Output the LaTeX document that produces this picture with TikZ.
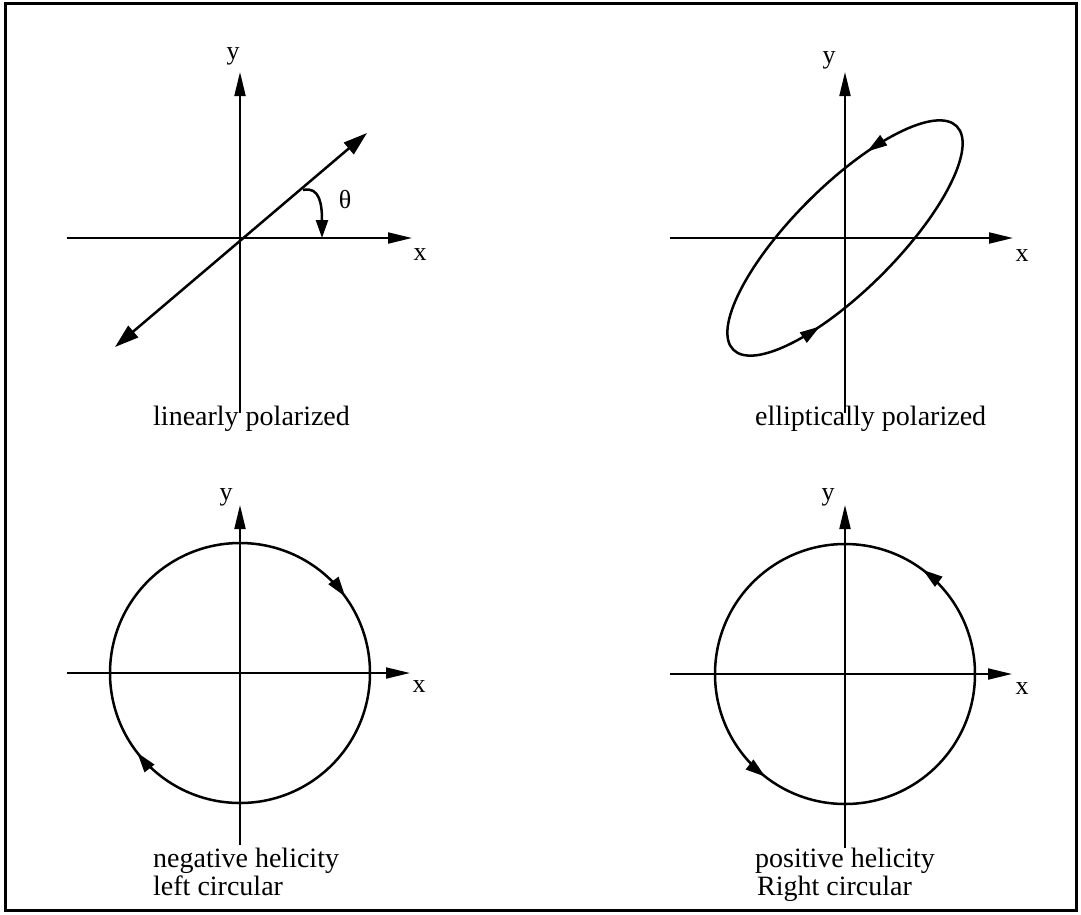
\documentclass[tikz,border=0pt]{standalone}
\usepackage{fontspec}
\setmainfont{Liberation Serif}
\usetikzlibrary{arrows.meta,decorations.markings}
\begin{document}
\begin{tikzpicture}[x=1pt,y=1pt,
  axis/.style={line width=2pt,-{Triangle[length=24pt,width=11pt]}},
  curve/.style={line width=2.5pt},
  lbl/.style={font=\fontsize{26}{30}\selectfont,inner sep=0pt},
  captxt/.style={font=\fontsize{28}{28}\selectfont,inner sep=0pt,anchor=base west}]
\useasboundingbox (0,0) rectangle (1081,-914);
\fill[white] (0,0) rectangle (1081,-914);
\draw[line width=3pt] (5,-3) rectangle (1076,-910);

% ---------- panel 1: linear ----------
\coordinate (o1) at (240,-238);
\coordinate (x1a) at (67,-238);  \coordinate (x1b) at (412,-238);
\coordinate (y1a) at (240,-413); \coordinate (y1b) at (240,-72);
\draw[axis] (x1a) -- (x1b);
\draw[axis] (y1a) -- (y1b);
\coordinate (l1a) at (115,-347); \coordinate (l1b) at (367,-133);
\draw[line width=2.5pt,{Triangle[length=24pt,width=15pt]}-{Triangle[length=24pt,width=15pt]}] (l1a) -- (l1b);
\coordinate (t1a) at (303,-190); \coordinate (t1b) at (322,-238);
\draw[line width=2.5pt,-{Triangle[length=18pt,width=12pt]}] (t1a) .. controls (320,-186) and (322,-205) .. (t1b);
\node[lbl] (th1) at (345,-200) {θ};
\node[lbl] (ly1) at (233,-56) {y};
\node[lbl] (lx1) at (420,-255) {x};
\node[captxt] (c1) at (153,-425) {linearly polarized};

% ---------- panel 2: elliptical ----------
\coordinate (o2) at (845,-238);
\coordinate (x2a) at (670,-238);  \coordinate (x2b) at (1013,-238);
\coordinate (y2a) at (845,-413);  \coordinate (y2b) at (845,-72);
\draw[axis] (x2a) -- (x2b);
\draw[axis] (y2a) -- (y2b);
\draw[curve,rotate around={45:(o2)},postaction=decorate,
  decoration={markings,
    mark=at position 0.14 with {\arrow{Triangle[length=20pt,width=12pt]}},
    mark=at position 0.635 with {\arrow{Triangle[length=20pt,width=12pt]}}}]
  (o2) ellipse [x radius=158pt,y radius=52pt];
\node[lbl] (ly2) at (829,-60) {y};
\node[lbl] (lx2) at (1022,-256) {x};
\node[captxt] (c2) at (755,-425) {elliptically polarized};

% ---------- panel 3: negative helicity ----------
\coordinate (o3) at (240,-673);
\coordinate (x3a) at (67,-673);  \coordinate (x3b) at (410,-673);
\coordinate (y3a) at (240,-845); \coordinate (y3b) at (240,-505);
\draw[axis] (x3a) -- (x3b);
\draw[axis] (y3a) -- (y3b);
\draw[curve,postaction=decorate,
  decoration={markings,
    mark=at position 0.10 with {\arrowreversed{Triangle[length=20pt,width=12pt]}},
    mark=at position 0.605 with {\arrowreversed{Triangle[length=20pt,width=12pt]}}}]
  (o3) circle [radius=130pt];
\node[lbl] (ly3) at (226,-497) {y};
\node[lbl] (lx3) at (419,-687) {x};
\node[captxt] (c3a) at (153,-867) {negative helicity};
\node[captxt] (c3b) at (153,-895) {left circular};

% ---------- panel 4: positive helicity ----------
\coordinate (o4) at (845,-674);
\coordinate (x4a) at (670,-674);  \coordinate (x4b) at (1012,-674);
\coordinate (y4a) at (845,-848);  \coordinate (y4b) at (845,-505);
\draw[axis] (x4a) -- (x4b);
\draw[axis] (y4a) -- (y4b);
\draw[curve,postaction=decorate,
  decoration={markings,
    mark=at position 0.148 with {\arrow{Triangle[length=20pt,width=12pt]}},
    mark=at position 0.645 with {\arrow{Triangle[length=20pt,width=12pt]}}}]
  (o4) circle [radius=130pt];
\node[lbl] (ly4) at (828,-497) {y};
\node[lbl] (lx4) at (1022,-689) {x};
\node[captxt] (c4a) at (755,-867) {positive helicity};
\node[captxt] (c4b) at (757,-895) {Right circular};
\end{tikzpicture}
\end{document}
